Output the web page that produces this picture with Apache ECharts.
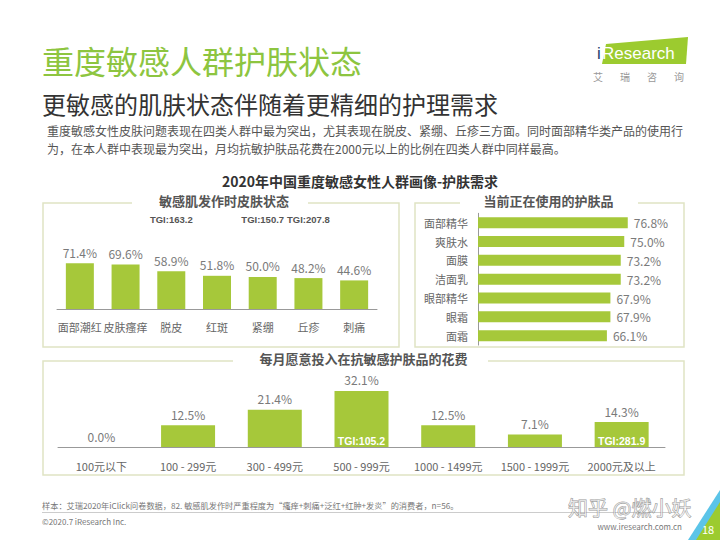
<!DOCTYPE html>
<html><head><meta charset="utf-8">
<script src="https://cdn.jsdelivr.net/npm/echarts@6/dist/echarts.min.js"></script>
<style>html,body{margin:0;padding:0;background:#fff}#c{width:720px;height:540px}</style>
</head><body><div id="c"></div>
<script>
// ---- data ----
const skinCats = ['面部潮红','皮肤瘙痒','脱皮','红斑','紧绷','丘疹','刺痛'];
const skinVals = [71.4,69.6,58.9,51.8,50.0,48.2,44.6];
const skinTGI  = ['','','163.2','','150.7','207.8',''];
const prodCats = ['面部精华','爽肤水','面膜','洁面乳','眼部精华','眼霜','面霜'];
const prodVals = [76.8,75.0,73.2,73.2,67.9,67.9,66.1];
const spendCats = ['100元以下','100 - 299元','300 - 499元','500 - 999元','1000 - 1499元','1500 - 1999元','2000元及以上'];
const spendVals = [0.0,12.5,21.4,32.1,12.5,7.1,14.3];
const spendTGI  = ['','','','105.2','','','281.9'];

// ---- style ----
const FONT = '"Noto Sans CJK SC","Noto Sans",sans-serif';
const LAT = '"Liberation Sans",Arial,sans-serif';
const GREEN = '#a6c83a';
const BORDER = '#e0e4c4';
const LBL = '#7a7a7a';
const pct = p => Number(p.value).toFixed(1) + '%';

function txt(x, y, text, size, color, opts) {
  opts = opts || {};
  const font = (opts.weight || 'normal') + ' ' + size + 'px ' + (opts.family || FONT);
  return {type:'text', x:x, y:y, z:opts.z || 10, silent:true,
    style:{text:text, fill:color, font:font,
      align:opts.align || 'left', textAlign:opts.align || 'left',
      verticalAlign:'middle', textVerticalAlign:'middle',
      stroke:opts.stroke, lineWidth:opts.lineWidth || 0, opacity:opts.opacity == null ? 1 : opts.opacity}};
}
function panel(x, y, w, h, gapX, gapW, title, titleX) {
  return [
    {type:'rect', z:1, silent:true, shape:{x:x, y:y, width:w, height:h}, style:{fill:'none', stroke:BORDER, lineWidth:1.5}},
    {type:'rect', z:2, silent:true, shape:{x:gapX, y:y-6, width:gapW, height:12}, style:{fill:'#fff'}},
    txt(titleX, y-2.5, title, 13, '#555', {align:'center', weight:'bold'})
  ];
}

const graphics = [].concat(
  [
    txt(42, 60, '重度敏感人群护肤状态', 32, '#8dc540'),
    txt(42, 103, '更敏感的肌肤状态伴随着更精细的护理需求', 24, '#333'),
    txt(47, 130, '重度敏感女性皮肤问题表现在四类人群中最为突出，尤其表现在脱皮、紧绷、丘疹三方面。同时面部精华类产品的使用行', 12, '#555'),
    txt(47, 148, '为，在本人群中表现最为突出，月均抗敏护肤品花费在2000元以上的比例在四类人群中同样最高。', 12, '#555'),
    txt(360, 181, '2020年中国重度敏感女性人群画像-护肤需求', 14, '#333', {align:'center', weight:'bold'}),
    // logo
    {type:'polygon', z:3, silent:true, shape:{points:[[606,44],[688,37],[686,64],[602,64]]}, style:{fill:'#9ccb2f'}},
    txt(597, 53, 'i', 17, '#1d3b6e', {family:LAT, z:11}),
    txt(602, 53, 'Research', 17, '#fff', {family:LAT, z:11}),
    txt(598, 76, '艾', 10, '#999', {align:'center'}),
    txt(625, 76, '瑞', 10, '#999', {align:'center'}),
    txt(652, 76, '咨', 10, '#999', {align:'center'}),
    txt(679, 76, '询', 10, '#999', {align:'center'})
  ],
  panel(43, 203, 356, 144, 132, 176, '敏感肌发作时皮肤状态', 224),
  panel(415, 203, 269, 144, 460, 178, '当前正在使用的护肤品', 548.5),
  panel(43, 361, 641, 114, 233, 255, '每月愿意投入在抗敏感护肤品的花费', 363.5),
  [
    txt(42, 505, '样本：艾瑞2020年iClick问卷数据，82. 敏感肌发作时严重程度为“瘙痒+刺痛+泛红+红肿+发炎”的消费者，n=56。', 8.2, '#777'),
    {type:'line', z:3, silent:true, shape:{x1:42, y1:512.5, x2:678, y2:512.5}, style:{stroke:'#ccc', lineWidth:1}},
    txt(42, 521, '©2020.7 iResearch Inc.', 8, '#777'),
    txt(682, 526, 'www.iresearch.com.cn', 8, '#777', {align:'right'}),
    txt(568, 507, '知乎 @燃小妖', 20, 'rgba(255,255,255,0.55)', {stroke:'rgba(110,110,110,0.75)', lineWidth:0.8, z:12}),
    {type:'polygon', z:4, silent:true, shape:{points:[[688,540],[720,490],[720,540]]}, style:{fill:'#5bc4e8'}},
    {type:'polygon', z:5, silent:true, shape:{points:[[696,540],[720,502],[720,540]]}, style:{fill:'#9ccb2f'}},
    txt(708, 529, '18', 11, '#fff', {align:'center', z:13})
  ]
);

const chart = echarts.init(document.getElementById('c'), null, {renderer:'svg', width:720, height:540});
chart.setOption({
  animation:false,
  backgroundColor:'#fff',
  textStyle:{fontFamily:FONT},
  grid:[
    {left:57, top:244.9, width:320, height:64.1},
    {left:478, top:213.3, width:195, height:131.8},
    {left:58, top:377.2, width:607, height:69.8}
  ],
  xAxis:[
    {gridIndex:0, type:'category', data:skinCats, axisLine:{lineStyle:{color:'#999'}}, axisTick:{show:false},
      axisLabel:{color:'#666', fontSize:11, margin:12, interval:0}},
    {gridIndex:0, type:'category', position:'top', data:skinCats, axisLine:{show:false}, axisTick:{show:false},
      axisLabel:{interval:0, margin:20, color:'#555', fontSize:9.5, fontWeight:'bold', fontFamily:LAT,
        formatter:(v,i) => skinTGI[i] ? 'TGI:' + skinTGI[i] : ''}},
    {gridIndex:1, type:'value', min:0, max:100, show:false},
    {gridIndex:2, type:'category', data:spendCats, axisLine:{lineStyle:{color:'#999'}}, axisTick:{show:false},
      axisLabel:{color:'#666', fontSize:11, margin:13, interval:0}}
  ],
  yAxis:[
    {gridIndex:0, type:'value', min:0, max:100, show:false},
    {gridIndex:1, type:'category', data:prodCats, inverse:true, axisLine:{lineStyle:{color:'#999'}}, axisTick:{show:false},
      axisLabel:{color:'#666', fontSize:11, margin:10}},
    {gridIndex:2, type:'value', min:0, max:40, show:false}
  ],
  series:[
    {type:'bar', xAxisIndex:0, yAxisIndex:0, data:skinVals, barWidth:28, itemStyle:{color:GREEN},
      label:{show:true, position:'top', distance:5, color:LBL, fontSize:12, formatter:pct}},
    {type:'bar', xAxisIndex:2, yAxisIndex:1, data:prodVals, barWidth:11, itemStyle:{color:GREEN},
      label:{show:true, position:'right', distance:6, color:LBL, fontSize:12, formatter:pct}},
    {type:'bar', xAxisIndex:3, yAxisIndex:2, data:spendVals, barWidth:54, barGap:'-100%', itemStyle:{color:GREEN},
      label:{show:true, position:'top', distance:5, color:LBL, fontSize:12, formatter:pct}},
    {type:'bar', xAxisIndex:3, yAxisIndex:2, data:spendVals, barWidth:54, barGap:'-100%', silent:true, z:3,
      itemStyle:{color:'rgba(0,0,0,0)'},
      label:{show:true, position:'insideBottom', distance:1, color:'#fff', fontSize:10.5, fontWeight:'bold',
        fontFamily:LAT,
        formatter:p => spendTGI[p.dataIndex] ? 'TGI:' + spendTGI[p.dataIndex] : ''}}
  ],
  graphic:{elements:graphics}
});
</script></body></html>
